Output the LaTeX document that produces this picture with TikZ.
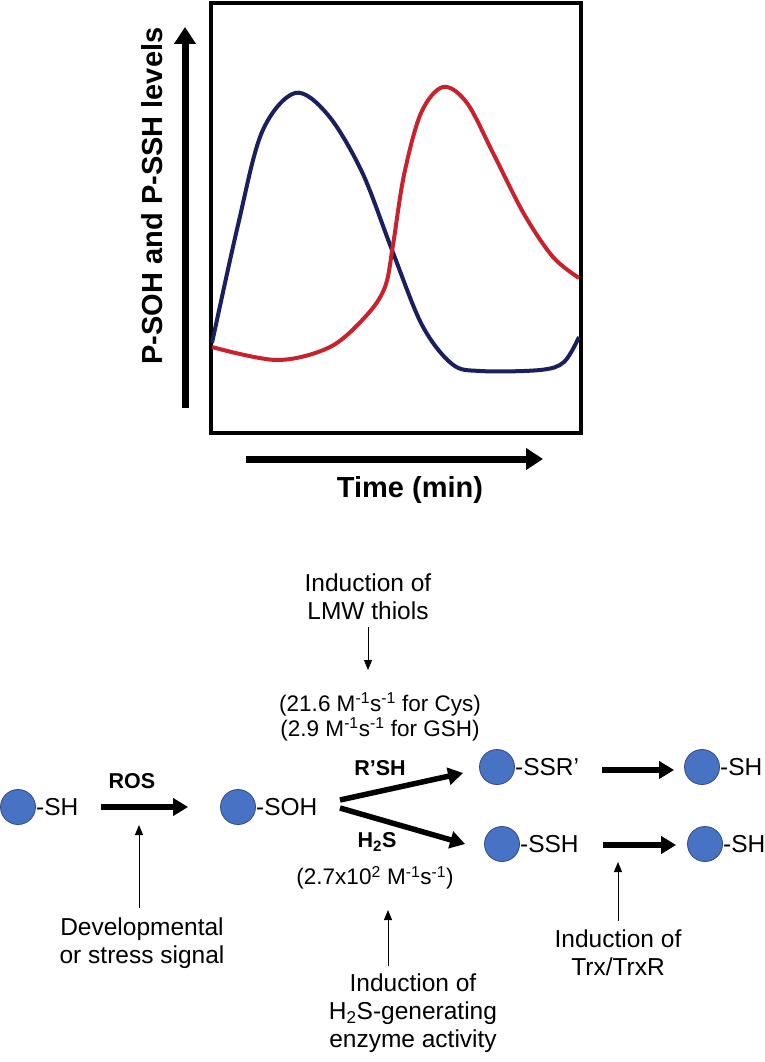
\documentclass[tikz,border=0pt]{standalone}
\usepackage{fontspec}
\setmainfont{Liberation Sans}
\usetikzlibrary{arrows.meta,positioning}

\definecolor{beadblue}{HTML}{4872C4}
\definecolor{beadedge}{HTML}{2E4A8A}
\definecolor{sohcurve}{HTML}{1B1F5E}
\definecolor{sshcurve}{HTML}{C8232C}

\begin{document}
\begin{tikzpicture}[x=1pt, y=-1pt, >=Stealth,
  bead/.style={circle, fill=beadblue, draw=beadedge, line width=0.8pt, minimum size=35pt, inner sep=0pt},
  grp/.style={inner sep=0pt, font=\fontsize{24.5}{29}\selectfont},
  note/.style={align=center, inner sep=0pt, font=\fontsize{24.5}{28}\selectfont},
  rate/.style={align=center, inner sep=0pt, font=\fontsize{22.5}{25}\selectfont},
  agent/.style={inner sep=0pt, font=\bfseries\fontsize{21.5}{24}\selectfont},
  rxn/.style={line width=5.5pt, -{Triangle[length=15pt,width=17pt]}},
  cue/.style={line width=1pt, -{Triangle[length=10pt,width=8pt]}},
  axis/.style={line width=7pt, -{Triangle[length=17pt,width=21pt]}}]

\useasboundingbox (0,0) rectangle (764,1062);

% time course of the two modifications
\draw[line width=4pt] (211,3) rectangle (581,433);
\coordinate (yb) at (185,408);
\coordinate (yt) at (185,27);
\draw[axis] (yb) -- (yt);
\coordinate (xl) at (246,459);
\coordinate (xr) at (543,459);
\draw[axis] (xl) -- (xr);
\node[rotate=90, font=\bfseries\fontsize{29}{32}\selectfont] (ylab) at (152,196) {P-SOH and P-SSH levels};
\node[font=\bfseries\fontsize{29}{32}\selectfont] (xlab) at (410,490) {Time (min)};

\draw[sohcurve, line width=4pt, line join=round] plot[smooth, tension=0.55] coordinates {
  (212,343) (238,225) (262,132) (295,93) (328,115) (362,172) (392,250)
  (422,325) (452,364) (480,371) (540,370) (564,362) (579,337)};
\draw[sshcurve, line width=4pt, line join=round] plot[smooth, tension=0.55] coordinates {
  (212,347) (277,360) (330,347) (366,316) (385,287) (393,245)
  (404,175) (421,113) (443,87) (467,103) (494,155) (524,214) (553,257) (579,278)};

% reaction scheme
\node[bead] (b1) at (18,807) {};
\node[grp, right=0pt of b1] (t1) {-SH};
\node[bead] (b2) at (238,807) {};
\node[grp, right=0pt of b2] (t2) {-SOH};
\node[bead] (b3) at (497,767) {};
\node[grp, right=0pt of b3] (t3) {-SSR’};
\node[bead] (b4) at (502,844) {};
\node[grp, right=0pt of b4] (t4) {-SSH};
\node[bead] (b5) at (702,767) {};
\node[grp, right=0pt of b5] (t5) {-SH};
\node[bead] (b6) at (705,844) {};
\node[grp, right=0pt of b6] (t6) {-SH};

\draw[rxn, shorten <=23pt, shorten >=32pt] (t1.east) -- (b2.west);
\node[agent] (ros) at (132,781) {ROS};

\coordinate (fork) at (340,804);
\draw[rxn] ([yshift=4pt]fork) -- ([xshift=-16pt,yshift=-6pt]b3.west);
\draw[rxn] ([yshift=-4pt]fork) -- ([xshift=-19pt]b4.west);
\node[agent] (rsh) at (380,768) {R’SH};
\node[agent] (hs) at (377,842) {H\textsubscript{2}S};

\draw[rxn, shorten <=23pt, shorten >=10pt] ([yshift=-3pt]t3.east) -- ([yshift=-3pt]b5.west);
\draw[rxn, shorten <=24pt, shorten >=11pt] ([yshift=-1pt]t4.east) -- ([yshift=-1pt]b6.west);

\node[rate] (krs) at (380,717) {(21.6 M\textsuperscript{-1}s\textsuperscript{-1} for Cys)\\(2.9 M\textsuperscript{-1}s\textsuperscript{-1} for GSH)};
\node[rate] (khs) at (375,878) {(2.7x10\textsuperscript{2} M\textsuperscript{-1}s\textsuperscript{-1})};

% inducing signals
\node[note] (lmw) at (368,597) {Induction of\\LMW thiols};
\coordinate (lmwtip) at (368,670);
\draw[cue] (lmw.south |- 0,627) -- (lmwtip);

\node[note] (dev) at (142,943) {Developmental\\or stress signal};
\coordinate (rostip) at (139,825);
\draw[cue] (rostip |- dev.north) ++(0,-9) -- (rostip);

\node[note] (enz) at (413,1013) {Induction of\\H\textsubscript{2}S-generating\\enzyme activity};
\coordinate (enztip) at (388,910);
\draw[cue] (enztip |- enz.north) ++(0,-7) -- (enztip);

\node[note] (trx) at (618,953) {Induction of\\Trx/TrxR};
\coordinate (trxtip) at (618,862);
\draw[cue] (trxtip |- trx.north) ++(0,-9) -- (trxtip);

\end{tikzpicture}
\end{document}
